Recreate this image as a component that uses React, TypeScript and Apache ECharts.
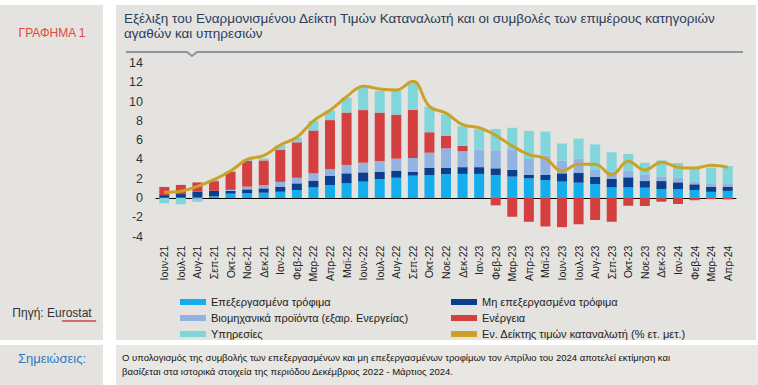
import React, { useEffect, useRef } from "react";
import * as echarts from "echarts";

const months = [
  "Ιουν-21", "Ιουλ-21", "Αυγ-21", "Σεπ-21", "Οκτ-21", "Νοε-21", "Δεκ-21",
  "Ιαν-22", "Φεβ-22", "Μαρ-22", "Απρ-22", "Μαϊ-22", "Ιουν-22", "Ιουλ-22", "Αυγ-22", "Σεπ-22", "Οκτ-22", "Νοε-22", "Δεκ-22",
  "Ιαν-23", "Φεβ-23", "Μαρ-23", "Απρ-23", "Μαϊ-23", "Ιουν-23", "Ιουλ-23", "Αυγ-23", "Σεπ-23", "Οκτ-23", "Νοε-23", "Δεκ-23",
  "Ιαν-24", "Φεβ-24", "Μαρ-24", "Απρ-24",
];

const processedFood = [
  0.02, 0.03, 0.05, 0.2, 0.45, 0.5, 0.55,
  0.65, 0.83, 1.1, 1.35, 1.52, 1.7, 1.97, 2.1, 2.32, 2.37, 2.47, 2.5,
  2.5, 2.39, 2.22, 2.04, 1.87, 1.7, 1.59, 1.45, 1.1, 1.1, 1.07, 0.93,
  0.9, 0.83, 0.64, 0.74,
];

const unprocessedFood = [
  0.28, 0.38, 0.6, 0.55, 0.3, 0.4, 0.45,
  0.53, 0.69, 0.7, 0.97, 1.04, 0.96, 0.76, 0.7, 0.41, 0.78, 0.68, 0.7,
  0.7, 0.69, 0.7, 0.35, 0.52, 0.86, 1.04, 0.76, 0.87, 1.05, 0.69, 0.83,
  0.73, 0.59, 0.54, 0.44,
];

const industrialGoods = [
  0, 0, -0.1, 0, 0.1, 0.28, 0.35,
  0.5, 0.58, 0.76, 0.66, 0.87, 1.0, 1.11, 1.28, 1.42, 1.55, 2.0, 1.66,
  1.83, 1.87, 2.11, 1.66, 2.0, 1.31, 1.46, 0.76, 0.76, 0.69, 0.69, 0.48,
  0.51, 0.28, 0.34, 0.27,
];

const energy = [
  0.85, 0.95, 0.97, 1.0, 1.86, 2.66, 2.55,
  3.3, 3.68, 4.44, 5.1, 5.43, 5.46, 5.02, 4.57, 4.98, 2.12, 1.31, 0.55,
  0, -0.76, -1.94, -2.46, -2.95, -3.02, -2.72, -2.28, -2.46, -0.8, -0.83, -0.38,
  -0.62, -0.23, -0.11, -0.14,
];

const services = [
  -0.55, -0.65, -0.3, 0.1, 0.1, 0.15, 0.2,
  0.5, 0.48, 1.0, 1.0, 1.54, 2.37, 2.24, 2.45, 2.97, 2.66, 2.21, 2.04,
  2.11, 2.21, 2.25, 2.91, 2.5, 1.78, 2.07, 2.59, 2.01, 1.73, 1.21, 1.66,
  1.49, 1.45, 1.63, 1.87,
];

const hicp = [
  0.6, 0.7, 1.2, 1.9, 2.8, 4.0, 4.4,
  5.5, 6.3, 8.0, 9.1, 10.5, 11.6, 11.3, 11.2, 12.1, 9.5, 8.8, 7.6,
  7.3, 6.5, 5.4, 4.5, 4.1, 2.8, 3.5, 3.5, 2.4, 3.8, 2.9, 3.7,
  3.2, 3.1, 3.4, 3.2,
];

const seriesNames = [
  "Επεξεργασμένα τρόφιμα",
  "Μη επεξεργασμένα τρόφιμα",
  "Βιομηχανικά προϊόντα (εξαιρ. Ενεργείας)",
  "Ενέργεια",
  "Υπηρεσίες",
  "Εν. Δείκτης τιμών καταναλωτή (% ετ. μετ.)",
];

const yTicks = { min: -4, max: 14, interval: 2 };

const FONT = '"Liberation Sans", Arial, sans-serif';
const PANEL = "#e4e3df";

export default function App() {
  const ref = useRef<HTMLDivElement>(null);

  useEffect(() => {
    if (!ref.current) return;
    const chart = echarts.init(ref.current, undefined, { renderer: "svg" });

    const barSeries = [
      { name: seriesNames[0], data: processedFood, color: "#14aeef" },
      { name: seriesNames[1], data: unprocessedFood, color: "#0b3f8d" },
      { name: seriesNames[2], data: industrialGoods, color: "#92b4e3" },
      { name: seriesNames[3], data: energy, color: "#d4403f" },
      { name: seriesNames[4], data: services, color: "#80d6da" },
    ].map((s) => ({
      type: "bar",
      name: s.name,
      data: s.data,
      stack: "total",
      barWidth: 10,
      itemStyle: { color: s.color },
      emphasis: { disabled: true },
    }));

    const squiggle: number[][] = [];
    for (let i = 0; i <= 34; i++) {
      squiggle.push([62 + i, i % 2 === 0 ? 320 : 322]);
    }

    const option: any = {
      animation: false,
      backgroundColor: "#ffffff",
      textStyle: { fontFamily: FONT },
      grid: { left: 156, right: 22, top: 63, height: 173.6 },
      xAxis: [
        {
          type: "category",
          data: months,
          position: "bottom",
          axisLine: { show: false, onZero: false },
          axisTick: { show: false },
          axisLabel: {
            rotate: 90,
            interval: 0,
            fontSize: 10.5,
            color: "#222",
            margin: 9,
            fontFamily: FONT,
          },
        },
        {
          type: "category",
          data: months,
          position: "bottom",
          axisLine: { show: true, onZero: true, lineStyle: { color: "#000", width: 1 } },
          axisTick: { show: false },
          axisLabel: { show: false },
        },
      ],
      yAxis: {
        type: "value",
        min: yTicks.min,
        max: yTicks.max,
        interval: yTicks.interval,
        axisLine: { show: false },
        axisTick: { show: false },
        splitLine: { show: false },
        axisLabel: { fontSize: 12.5, color: "#333", margin: 13, fontFamily: FONT },
      },
      legend: [
        {
          left: 180,
          top: 296,
          orient: "vertical",
          padding: 0,
          itemWidth: 26,
          itemHeight: 6,
          itemGap: 4,
          icon: "rect",
          selectedMode: false,
          data: [seriesNames[0], seriesNames[2], seriesNames[4]],
          textStyle: { fontSize: 11, color: "#222", lineHeight: 12, fontFamily: FONT },
        },
        {
          left: 451,
          top: 296,
          orient: "vertical",
          padding: 0,
          itemWidth: 26,
          itemHeight: 6,
          itemGap: 4,
          icon: "rect",
          selectedMode: false,
          data: [seriesNames[1], seriesNames[3], seriesNames[5]],
          textStyle: { fontSize: 11, color: "#222", lineHeight: 12, fontFamily: FONT },
        },
      ],
      series: [
        ...barSeries,
        {
          type: "line",
          name: seriesNames[5],
          data: hicp,
          smooth: 0.4,
          showSymbol: false,
          symbol: "none",
          z: 5,
          lineStyle: { color: "#c9a227", width: 3 },
          itemStyle: { color: "#c9a227" },
          emphasis: { disabled: true },
        },
      ],
      graphic: [
        { type: "rect", silent: true, z: -10, shape: { x: 0, y: 5, width: 103, height: 335 }, style: { fill: PANEL } },
        { type: "rect", silent: true, z: -10, shape: { x: 116, y: 5, width: 640, height: 335 }, style: { fill: PANEL } },
        { type: "rect", silent: true, z: -10, shape: { x: 0, y: 345, width: 103, height: 40 }, style: { fill: PANEL } },
        { type: "rect", silent: true, z: -10, shape: { x: 116, y: 345, width: 642, height: 40 }, style: { fill: "#e8e7e3" } },
        {
          type: "text", x: 52, y: 33, silent: true,
          style: { text: "ΓΡΑΦΗΜΑ 1", fill: "#e0483e", font: `12px ${FONT}`, align: "center", verticalAlign: "middle" },
        },
        {
          type: "text", x: 124, y: 18, silent: true,
          style: {
            text: "Εξέλιξη του Εναρμονισμένου Δείκτη Τιμών Καταναλωτή και οι συμβολές των επιμέρους κατηγοριών",
            fill: "#2c3d5c", font: `13.5px ${FONT}`, align: "left", verticalAlign: "middle",
          },
        },
        {
          type: "text", x: 124, y: 33, silent: true,
          style: { text: "αγαθών και υπηρεσιών", fill: "#2c3d5c", font: `13.5px ${FONT}`, align: "left", verticalAlign: "middle" },
        },
        {
          type: "polyline", silent: true,
          shape: { points: [[126, 52], [187, 52], [192, 56], [197, 52], [743, 52]] },
          style: { stroke: "#8c95a2", lineWidth: 2, fill: null },
        },
        {
          type: "text", x: 52, y: 313, silent: true,
          style: { text: "Πηγή: Eurostat", fill: "#333", font: `12px ${FONT}`, align: "center", verticalAlign: "middle" },
        },
        {
          type: "polyline", silent: true,
          shape: { points: squiggle },
          style: { stroke: "#d03030", lineWidth: 0.8, fill: null },
        },
        {
          type: "text", x: 52, y: 358, silent: true,
          style: { text: "Σημειώσεις:", fill: "#2a7bbf", font: `13px ${FONT}`, align: "center", verticalAlign: "middle" },
        },
        {
          type: "text", x: 122, y: 357, silent: true,
          style: {
            text: "Ο υπολογισμός της συμβολής των επεξεργασμένων και μη επεξεργασμένων τροφίμων τον Απρίλιο του 2024 αποτελεί εκτίμηση και",
            fill: "#111", font: `9.5px ${FONT}`, align: "left", verticalAlign: "middle",
          },
        },
        {
          type: "text", x: 122, y: 371, silent: true,
          style: {
            text: "βασίζεται στα ιστορικά στοιχεία της περιόδου Δεκέμβριος 2022 - Μάρτιος 2024.",
            fill: "#111", font: `9.5px ${FONT}`, align: "left", verticalAlign: "middle",
          },
        },
      ],
    };

    chart.setOption(option);
    return () => chart.dispose();
  }, []);

  return (
    <div
      ref={ref}
      style={{ position: "absolute", left: 0, top: 0, width: 758, height: 385 }}
    />
  );
}
